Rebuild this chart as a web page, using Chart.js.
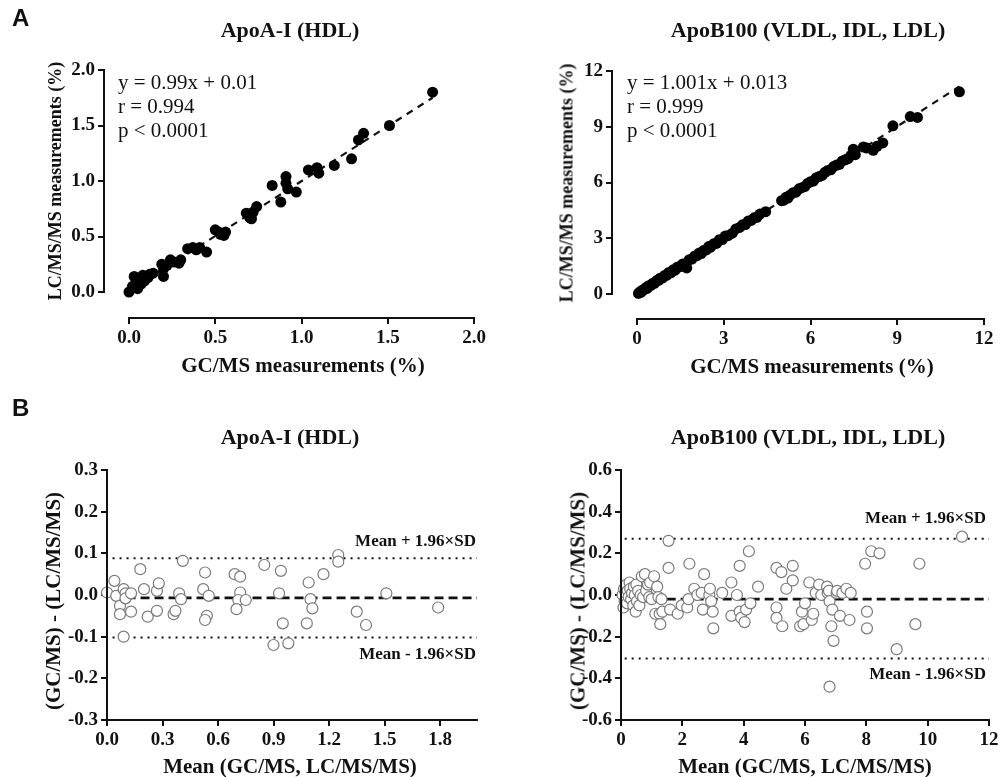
<!DOCTYPE html>
<html>
<head>
<meta charset="utf-8">
<script src="https://cdn.jsdelivr.net/npm/chart.js@4.4.1/dist/chart.umd.min.js"></script>
<style>
  html, body { margin: 0; padding: 0; background: #fff; }
  #quadro { position: relative; width: 1002px; height: 777px; overflow: hidden; }
  #quadro canvas { position: absolute; }
  .txt { position: absolute; font-family: "Liberation Serif", serif; color: #111; white-space: nowrap; }
  .titulo { font-weight: bold; font-size: 22px; transform: translate(-50%, -50%); }
  .eixo { font-weight: bold; font-size: 21px; transform: translate(-50%, -50%); }
  .eixoY { font-weight: bold; font-size: 18px; transform: translate(-50%, -50%) rotate(-90deg); }
  .eixoYb { font-weight: bold; font-size: 21px; transform: translate(-50%, -50%) rotate(-90deg); }
  .eq { font-size: 21px; line-height: 24px; }
  .sd { font-weight: bold; font-size: 17px; transform: translate(-100%, -50%); }
  .letra { font-family: "Liberation Sans", Arial, sans-serif; font-weight: bold; font-size: 24px; }
</style>
</head>
<body>
<div id="quadro">
  <canvas id="gA1"></canvas>
  <canvas id="gA2"></canvas>
  <canvas id="gB1"></canvas>
  <canvas id="gB2"></canvas>
</div>
<script>
// ---- dados ----
// A: ApoA-I (HDL), GC/MS vs LC/MS/MS
const a1X = [0.00,0.02,0.03,0.04,0.05,0.06,0.07,0.08,0.09,0.11,0.12,0.14,0.19,0.20,0.20,0.22,0.24,0.26,0.29,0.30,0.34,0.37,0.39,0.41,0.45,0.50,0.52,0.53,0.55,0.56,0.68,0.70,0.71,0.72,0.74,0.83,0.88,0.91,0.91,0.92,0.97,1.04,1.09,1.10,1.19,1.29,1.33,1.36,1.51,1.76];
const a1Y = [0.00,0.05,0.14,0.09,0.03,0.11,0.07,0.15,0.10,0.13,0.16,0.17,0.25,0.14,0.21,0.24,0.29,0.27,0.26,0.29,0.39,0.40,0.38,0.40,0.36,0.56,0.54,0.52,0.51,0.54,0.71,0.67,0.66,0.72,0.77,0.96,0.81,1.04,0.98,0.93,0.90,1.10,1.12,1.07,1.14,1.20,1.37,1.43,1.50,1.80];
const a1Reta = [[0.02, 0.03], [1.76, 1.75]];

// A: ApoB100 (VLDL, IDL, LDL)
const a2X = [0.05,0.10,0.15,0.20,0.25,0.30,0.35,0.40,0.48,0.55,0.60,0.68,0.75,0.80,0.88,0.95,1.02,1.10,1.18,1.25,1.32,1.40,1.50,1.58,1.65,1.72,1.80,1.90,2.00,2.08,2.15,2.22,2.30,2.40,2.48,2.55,2.65,2.75,2.85,2.95,3.05,3.15,3.30,3.42,3.55,3.65,3.75,3.85,3.95,4.05,4.15,4.25,4.45,5.00,5.08,5.15,5.22,5.30,5.40,5.50,5.60,5.70,5.80,5.90,6.00,6.10,6.20,6.30,6.40,6.50,6.60,6.70,6.80,6.90,7.00,7.10,7.20,7.30,7.40,7.48,7.55,7.83,7.95,8.17,8.30,8.50,8.85,9.45,9.70,11.15];
const a2Y = [0.03,0.12,0.10,0.22,0.24,0.33,0.30,0.45,0.46,0.58,0.57,0.72,0.74,0.85,0.86,0.99,1.00,1.16,1.15,1.30,1.28,1.45,1.47,1.62,1.62,1.40,1.84,1.88,2.05,2.06,2.20,2.18,2.34,2.37,2.55,2.52,2.70,2.72,2.92,2.93,3.12,3.14,3.27,3.50,3.58,3.72,3.74,3.93,3.96,4.10,4.13,4.30,4.43,5.02,5.05,5.20,5.16,5.33,5.45,5.48,5.66,5.72,5.78,5.95,6.04,6.08,6.26,6.32,6.38,6.55,6.65,6.68,6.86,6.94,6.98,7.16,7.22,7.28,7.46,7.79,7.50,7.91,7.85,7.73,7.95,8.13,9.05,9.55,9.50,10.88];
const a2Reta = [[0.0, 0.01], [11.15, 11.17]];

// B: Bland-Altman ApoA-I (HDL)
const b1X = [0.00,0.04,0.05,0.07,0.07,0.09,0.10,0.10,0.13,0.13,0.09,0.18,0.20,0.22,0.27,0.28,0.27,0.36,0.37,0.39,0.40,0.41,0.52,0.53,0.55,0.54,0.53,0.69,0.72,0.72,0.71,0.75,0.70,0.85,0.94,0.93,0.95,0.90,0.98,1.09,1.10,1.11,1.08,1.17,1.25,1.25,1.35,1.40,1.51,1.79];
const b1Y = [0.006,0.034,-0.002,-0.026,-0.046,0.014,0.004,-0.008,0.004,-0.040,-0.100,0.062,0.014,-0.052,0.010,0.028,-0.038,-0.046,-0.038,0.004,-0.010,0.082,0.014,0.054,-0.002,-0.050,-0.060,0.050,0.044,0.006,-0.012,-0.012,-0.034,0.072,0.058,0.004,-0.068,-0.120,-0.116,0.030,-0.010,-0.032,-0.068,0.050,0.096,0.080,-0.040,-0.072,0.004,-0.030];
const b1Media = -0.007, b1Sup = 0.088, b1Inf = -0.102;
const b1Faixa = [0.03, 2.0];

// B: Bland-Altman ApoB100 (VLDL, IDL, LDL)
const b2X = [0.05,0.08,0.10,0.12,0.15,0.18,0.20,0.22,0.25,0.28,0.30,0.33,0.36,0.40,0.42,0.45,0.48,0.50,0.52,0.56,0.60,0.64,0.68,0.72,0.78,0.82,0.88,0.92,0.95,1.00,1.08,1.12,1.18,1.22,1.26,1.28,1.32,1.35,1.55,1.55,1.60,1.85,1.98,2.16,2.20,2.23,2.39,2.49,2.63,2.67,2.71,2.88,2.90,2.94,2.99,3.01,3.30,3.60,3.60,3.78,3.87,3.87,3.92,4.03,4.08,4.17,4.22,4.47,5.07,5.07,5.07,5.23,5.26,5.39,5.60,5.60,5.84,5.90,5.95,6.00,6.14,6.22,6.27,6.35,6.46,6.53,6.72,6.74,6.78,6.80,6.86,6.89,6.93,7.03,7.05,7.14,7.22,7.35,7.45,7.49,6.80,7.96,8.02,8.02,8.16,8.43,8.99,9.60,9.73,11.12];
const b2Y = [0.00,-0.06,0.03,-0.03,0.01,0.05,-0.04,0.02,-0.01,0.06,0.03,-0.02,0.01,-0.05,0.04,0.00,-0.08,0.05,-0.03,0.02,-0.05,0.00,0.09,-0.01,0.10,0.02,0.05,-0.01,0.06,-0.02,0.09,-0.09,0.04,-0.01,-0.09,-0.14,-0.02,-0.08,0.26,0.13,-0.07,-0.09,-0.05,-0.06,-0.02,0.15,0.03,0.00,0.01,-0.07,0.10,0.00,0.03,-0.03,-0.08,-0.16,0.01,0.06,-0.10,0.00,0.14,-0.08,-0.11,-0.13,-0.07,0.21,-0.04,0.04,-0.06,0.13,-0.11,0.11,-0.15,0.03,0.14,0.07,-0.15,-0.08,-0.14,-0.04,0.06,-0.12,-0.09,0.01,0.05,0.00,0.04,0.01,0.02,-0.03,-0.15,-0.07,-0.22,0.01,0.02,-0.10,0.01,0.03,-0.12,0.01,-0.44,0.15,-0.08,-0.16,0.21,0.20,-0.26,-0.14,0.15,0.28];
const b2Media = -0.02, b2Sup = 0.27, b2Inf = -0.305;
const b2Faixa = [0.12, 12];

// ticks
const ticksA1 = [0, 0.5, 1.0, 1.5, 2.0];
const ticksA2 = [0, 3, 6, 9, 12];
const ticksB1x = [0, 0.3, 0.6, 0.9, 1.2, 1.5, 1.8];
const ticksB2x = [0, 2, 4, 6, 8, 10, 12];
const ticksB1y = [-0.3, -0.2, -0.1, 0.0, 0.1, 0.2, 0.3];
const ticksB2y = [-0.6, -0.4, -0.2, 0.0, 0.2, 0.4, 0.6];

const fonteTick = { family: 'Liberation Serif', weight: 'bold', size: 19 };
const preto = '#111';

// desenha as linhas dos eixos só no trecho pedido (estilo GraphPad)
const eixosPlugin = {
  id: 'eixos',
  afterDatasetsDraw(chart, args, opts) {
    const { ctx, chartArea, scales } = chart;
    ctx.save();
    ctx.strokeStyle = preto;
    ctx.lineWidth = 2;
    const x0 = scales.x.getPixelForValue(opts.x[0]);
    const x1 = scales.x.getPixelForValue(opts.x[1]);
    ctx.beginPath();
    ctx.moveTo(x0 - 1, chartArea.bottom);
    ctx.lineTo(x1 + 1, chartArea.bottom);
    ctx.stroke();
    const y0 = scales.y.getPixelForValue(opts.y[0]);
    const y1 = scales.y.getPixelForValue(opts.y[1]);
    ctx.beginPath();
    ctx.moveTo(chartArea.left, y0 + 1);
    ctx.lineTo(chartArea.left, y1 - 1);
    ctx.stroke();
    ctx.restore();
  }
};

function pares(xs, ys) {
  return xs.map((x, i) => ({ x: x, y: ys[i] }));
}

function escala(min, max, ticks, fmt) {
  return {
    type: 'linear',
    min: min,
    max: max,
    border: { display: false },
    grid: { display: true, drawOnChartArea: false, drawTicks: true, tickLength: 6, color: preto, lineWidth: 2 },
    ticks: { font: fonteTick, color: preto, padding: 3, autoSkip: false, maxRotation: 0, callback: fmt },
    afterBuildTicks: s => { s.ticks = ticks.map(v => ({ value: v })); }
  };
}

function criarGrafico(id, pos, area, escX, escY, datasets, eixos) {
  const cv = document.getElementById(id);
  cv.style.left = pos.left + 'px';
  cv.style.top = pos.top + 'px';
  cv.style.width = pos.w + 'px';
  cv.style.height = pos.h + 'px';
  cv.width = pos.w;
  cv.height = pos.h;
  escY.afterFit = s => { s.width = area.left; };
  escX.afterFit = s => { s.height = pos.h - area.bottom; };
  return new Chart(cv.getContext('2d'), {
    type: 'scatter',
    data: { datasets: datasets },
    options: {
      responsive: false,
      animation: false,
      devicePixelRatio: 1,
      layout: { autoPadding: false, padding: { left: 0, top: area.top, right: pos.w - area.right, bottom: 0 } },
      plugins: { legend: { display: false }, tooltip: { enabled: false }, eixos: eixos },
      scales: { x: escX, y: escY }
    },
    plugins: [eixosPlugin]
  });
}

function pontosCheios(xs, ys) {
  return { data: pares(xs, ys), pointRadius: 5.5, pointBackgroundColor: '#000', pointBorderColor: '#000', pointBorderWidth: 0, clip: false, order: 1 };
}
function pontosVazios(xs, ys) {
  return { data: pares(xs, ys), pointRadius: 5.5, pointBackgroundColor: '#fff', pointBorderColor: '#7a7a7a', pointBorderWidth: 1.2, clip: false, order: 1 };
}
function linha(p, dash, larg) {
  return { type: 'line', data: p.map(q => ({ x: q[0], y: q[1] })), borderColor: preto, borderWidth: larg, borderDash: dash, pointRadius: 0, fill: false, order: 2 };
}
function horizontal(v, faixa, dash, larg) {
  return linha([[faixa[0], v], [faixa[1], v]], dash, larg);
}

const f1 = v => v.toFixed(1);
const f0 = v => String(v);

// A1: eixo x 0 -> 129px, 2.0 -> 474px ; eixo y 2.0 -> 70px, 0 -> 292px
(function () {
  const pos = { left: 0, top: 0, w: 500, h: 390 };
  const area = { left: 104, right: 474, top: 70, bottom: 318 };
  const xMin = -(129 - area.left) / (474 - 129) * 2.0;
  const yMin = -(area.bottom - 292) / (292 - 70) * 2.0;
  criarGrafico('gA1', pos, area,
    escala(xMin, 2.0, ticksA1, f1),
    escala(yMin, 2.0, ticksA1, f1),
    [pontosCheios(a1X, a1Y), linha(a1Reta, [7, 6], 2.2)],
    { x: [0, 2.0], y: [0, 2.0] });
})();

// A2 (coords do canvas): eixo x 0 -> 137, 12 -> 484 ; eixo y 12 -> 71, 0 -> 294
(function () {
  const pos = { left: 500, top: 0, w: 502, h: 390 };
  const area = { left: 112, right: 484, top: 71, bottom: 319 };
  const xMin = -(137 - area.left) / (484 - 137) * 12;
  const yMin = -(area.bottom - 294) / (294 - 71) * 12;
  criarGrafico('gA2', pos, area,
    escala(xMin, 12, ticksA2, f0),
    escala(yMin, 12, ticksA2, f0),
    [pontosCheios(a2X, a2Y), linha(a2Reta, [7, 6], 2.2)],
    { x: [0, 12], y: [0, 12] });
})();

// B1
(function () {
  const pos = { left: 0, top: 390, w: 500, h: 387 };
  const area = { left: 107, right: 477, top: 80, bottom: 330 };
  criarGrafico('gB1', pos, area,
    escala(0, 2.0, ticksB1x, f1),
    escala(-0.3, 0.3, ticksB1y, f1),
    [pontosVazios(b1X, b1Y),
     horizontal(b1Media, b1Faixa, [9, 5], 2.6),
     horizontal(b1Sup, b1Faixa, [2, 5], 2),
     horizontal(b1Inf, b1Faixa, [2, 5], 2)],
    { x: [0, 2.0], y: [-0.3, 0.3] });
})();

// B2
(function () {
  const pos = { left: 500, top: 390, w: 502, h: 387 };
  const area = { left: 121, right: 489, top: 80, bottom: 330 };
  criarGrafico('gB2', pos, area,
    escala(0, 12, ticksB2x, f0),
    escala(-0.6, 0.6, ticksB2y, f1),
    [pontosVazios(b2X, b2Y),
     horizontal(b2Media, b2Faixa, [9, 5], 2.6),
     horizontal(b2Sup, b2Faixa, [2, 5], 2),
     horizontal(b2Inf, b2Faixa, [2, 5], 2)],
    { x: [0, 12], y: [-0.6, 0.6] });
})();

// textos
const quadro = document.getElementById('quadro');
function texto(t, x, y, cls) {
  const d = document.createElement('div');
  d.className = 'txt ' + cls;
  d.style.left = x + 'px';
  d.style.top = y + 'px';
  d.innerHTML = t;
  quadro.appendChild(d);
}
texto('A', 12, 4, 'letra');
texto('B', 12, 394, 'letra');
texto('ApoA-I (HDL)', 290, 30, 'titulo');
texto('ApoB100 (VLDL, IDL, LDL)', 808, 30, 'titulo');
texto('ApoA-I (HDL)', 290, 437, 'titulo');
texto('ApoB100 (VLDL, IDL, LDL)', 808, 437, 'titulo');
texto('GC/MS measurements (%)', 303, 365, 'eixo');
texto('GC/MS measurements (%)', 812, 366, 'eixo');
texto('Mean (GC/MS, LC/MS/MS)', 290, 766, 'eixo');
texto('Mean (GC/MS, LC/MS/MS)', 805, 766, 'eixo');
texto('LC/MS/MS measurements (%)', 55, 181, 'eixoY');
texto('LC/MS/MS measurements (%)', 567, 183, 'eixoY');
texto('(GC/MS) - (LC/MS/MS)', 53, 601, 'eixoYb');
texto('(GC/MS) - (LC/MS/MS)', 578, 601, 'eixoYb');
texto('y = 0.99x + 0.01<br>r = 0.994<br>p &lt; 0.0001', 118, 70, 'eq');
texto('y = 1.001x + 0.013<br>r = 0.999<br>p &lt; 0.0001', 627, 70, 'eq');
texto('Mean + 1.96×SD', 476, 541, 'sd');
texto('Mean - 1.96×SD', 476, 654, 'sd');
texto('Mean + 1.96×SD', 986, 518, 'sd');
texto('Mean - 1.96×SD', 986, 674, 'sd');
</script>
</body>
</html>
